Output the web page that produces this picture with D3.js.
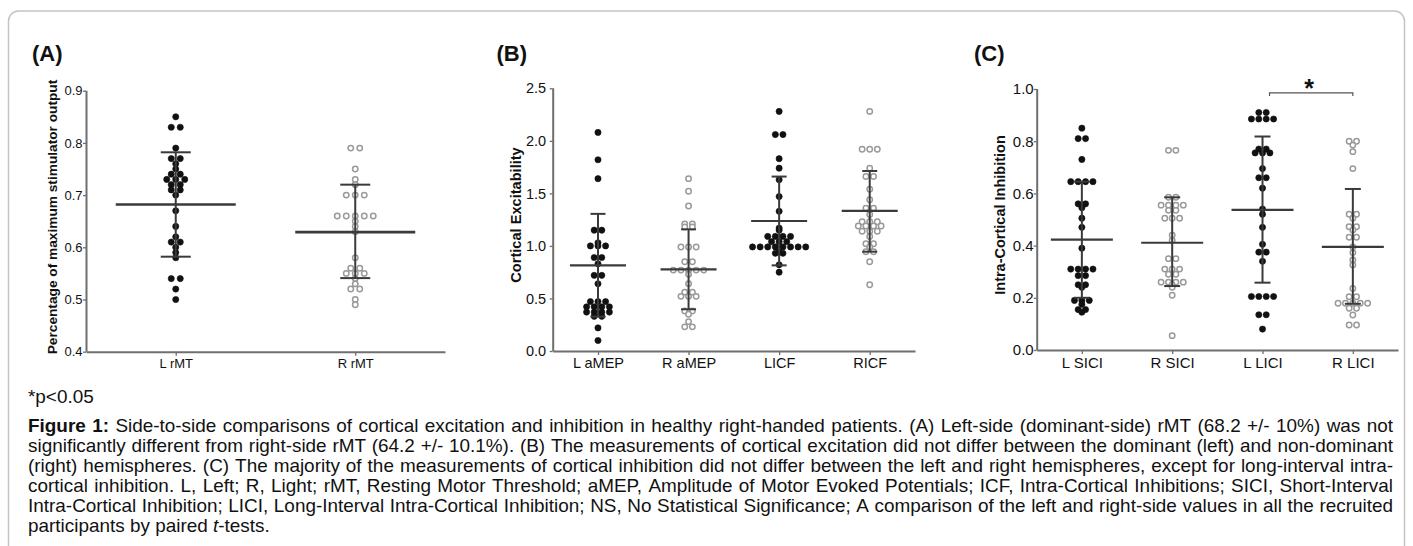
<!DOCTYPE html>
<html>
<head>
<meta charset="utf-8">
<script src="https://cdn.jsdelivr.net/npm/d3@7"></script>
<style>
  body { margin: 0; background: #fff; }
  svg { display: block; }
  text { font-family: "Liberation Sans", Arial, sans-serif; fill: #111; }
</style>
</head>
<body>
<svg id="fig" width="1413" height="546"></svg>
<script>
// ---- data ----
const rmtGroups = ["L rMT", "R rMT"];
const rmtTicks = [0.4, 0.5, 0.6, 0.7, 0.8, 0.9];
const rmtLeft = [0.85, 0.83, 0.83, 0.79, 0.77, 0.77, 0.76, 0.75, 0.74, 0.74, 0.73, 0.73, 0.73, 0.72, 0.72,
  0.71, 0.71, 0.70, 0.67, 0.64, 0.62, 0.61, 0.61, 0.60, 0.59, 0.58, 0.54, 0.54, 0.52, 0.50];
const rmtRight = [0.79, 0.79, 0.75, 0.73, 0.72, 0.70, 0.70, 0.70, 0.66, 0.66, 0.66, 0.66, 0.66, 0.65, 0.64,
  0.63, 0.58, 0.56, 0.56, 0.55, 0.55, 0.55, 0.54, 0.53, 0.52, 0.52, 0.50, 0.49];
const rmtMean = [0.682, 0.629];
const rmtSdHigh = [0.782, 0.72];
const rmtSdLow = [0.582, 0.541];

const excGroups = ["L aMEP", "R aMEP", "LICF", "RICF"];
const excTicks = [0.0, 0.5, 1.0, 1.5, 2.0, 2.5];
const aMepLeft = [2.08, 1.82, 1.64, 1.15, 1.15, 1.03, 1.0, 1.0, 1.0, 0.89, 0.89, 0.83, 0.72, 0.72, 0.64,
  0.47, 0.47, 0.47, 0.42, 0.42, 0.42, 0.42, 0.37, 0.37, 0.37, 0.37, 0.33, 0.33, 0.22, 0.10];
const aMepRight = [1.64, 1.52, 1.38, 1.21, 1.21, 1.18, 1.18, 0.99, 0.99, 0.99, 0.85, 0.85, 0.77, 0.77, 0.77,
  0.77, 0.77, 0.73, 0.64, 0.56, 0.56, 0.52, 0.52, 0.52, 0.38, 0.38, 0.35, 0.28, 0.23, 0.23];
const icfLeft = [2.28, 2.06, 2.06, 1.83, 1.74, 1.63, 1.47, 1.33, 1.17, 1.15, 1.09, 1.09, 1.09, 1.09, 1.04,
  1.04, 1.04, 0.99, 0.99, 0.99, 0.99, 0.99, 0.99, 0.99, 0.99, 0.94, 0.93, 0.93, 0.82, 0.75];
const icfRight = [2.28, 1.92, 1.92, 1.92, 1.74, 1.66, 1.66, 1.54, 1.44, 1.36, 1.36, 1.30, 1.23, 1.23, 1.23,
  1.19, 1.19, 1.19, 1.19, 1.14, 1.14, 1.14, 1.09, 1.02, 1.02, 0.99, 0.945, 0.945, 0.85, 0.63];
const excMean = [0.815, 0.777, 1.237, 1.333];
const excSdHigh = [1.305, 1.158, 1.66, 1.713];
const excSdLow = [0.327, 0.397, 0.815, 0.945];

const inhGroups = ["L SICI", "R SICI", "L LICI", "R LICI"];
const inhTicks = [0.0, 0.2, 0.4, 0.6, 0.8, 1.0];
const siciLeft = [0.85, 0.81, 0.81, 0.73, 0.645, 0.645, 0.645, 0.645, 0.56, 0.56, 0.545, 0.505, 0.47, 0.39,
  0.31, 0.31, 0.31, 0.31, 0.285, 0.285, 0.25, 0.25, 0.24, 0.19, 0.19, 0.19, 0.175, 0.155, 0.155, 0.145];
const siciRight = [0.765, 0.765, 0.585, 0.585, 0.555, 0.555, 0.555, 0.555, 0.535, 0.535, 0.505, 0.505, 0.505,
  0.44, 0.42, 0.35, 0.35, 0.31, 0.31, 0.31, 0.29, 0.29, 0.26, 0.26, 0.26, 0.26, 0.25, 0.24, 0.21, 0.055];
const liciLeft = [0.91, 0.91, 0.885, 0.885, 0.885, 0.885, 0.77, 0.77, 0.755, 0.755, 0.755, 0.695, 0.66, 0.66,
  0.62, 0.54, 0.52, 0.47, 0.405, 0.375, 0.375, 0.34, 0.205, 0.205, 0.205, 0.205, 0.135, 0.135, 0.08];
const liciRight = [0.80, 0.80, 0.785, 0.76, 0.695, 0.52, 0.52, 0.505, 0.472, 0.472, 0.46, 0.432, 0.432, 0.395,
  0.373, 0.345, 0.326, 0.236, 0.204, 0.204, 0.179, 0.179, 0.179, 0.179, 0.179, 0.16, 0.16, 0.134, 0.096, 0.096];
const inhMean = [0.423, 0.411, 0.537, 0.395];
const inhSdHigh = [0.645, 0.585, 0.818, 0.617];
const inhSdLow = [0.20, 0.245, 0.258, 0.177];

const footnote = "*p<0.05";
const captionLines = [
  "<b>Figure</b> <b>1:</b> Side-to-side comparisons of cortical excitation and inhibition in healthy right-handed patients. (A) Left-side (dominant-side) rMT (68.2 +/- 10%) was not",
  "significantly different from right-side rMT (64.2 +/- 10.1%). (B) The measurements of cortical excitation did not differ between the dominant (left) and non-dominant",
  "(right) hemispheres. (C) The majority of the measurements of cortical inhibition did not differ between the left and right hemispheres, except for long-interval intra-",
  "cortical inhibition. L, Left; R, Light; rMT, Resting Motor Threshold; aMEP, Amplitude of Motor Evoked Potentials; ICF, Intra-Cortical Inhibitions; SICI, Short-Interval",
  "Intra-Cortical Inhibition; LICI, Long-Interval Intra-Cortical Inhibition; NS, No Statistical Significance; A comparison of the left and right-side values in all the recruited",
  "participants by paired <i>t</i>-tests."
];

// ---- layout ----
const panels = [
  {
    label: "(A)", labelX: 32, title: "Percentage of maximum stimulator output", titleX: 52, titleY: 217, titleSize: 13.7,
    groups: rmtGroups, values: [rmtLeft, rmtRight], mean: rmtMean, hi: rmtSdHigh, lo: rmtSdLow,
    domain: [0.4, 0.9], ticks: rmtTicks, x0: 86, x1: 445, yTop: 90.7, yBot: 351.7,
    font: 13, tickPad: 0.5, meanHalf: 60, capHalf: 15, meanWidth: 2.6, spacing: 9
  },
  {
    label: "(B)", labelX: 496.5, title: "Cortical Excitability", titleX: 516, titleY: 215, titleSize: 14.6,
    groups: excGroups, values: [aMepLeft, aMepRight, icfLeft, icfRight], mean: excMean, hi: excSdHigh, lo: excSdLow,
    domain: [0, 2.5], ticks: excTicks, x0: 552.7, x1: 915, yTop: 88.3, yBot: 351,
    font: 14.5, tickPad: 3.5, meanHalf: 28, capHalf: 7.5, meanWidth: 2.2, spacing: 7.6
  },
  {
    label: "(C)", labelX: 974, title: "Intra-Cortical Inhibition", titleX: 1000, titleY: 215, titleSize: 14.5,
    groups: inhGroups, values: [siciLeft, siciRight, liciLeft, liciRight], mean: inhMean, hi: inhSdHigh, lo: inhSdLow,
    domain: [0, 1.0], ticks: inhTicks, x0: 1036.7, x1: 1398, yTop: 89, yBot: 350,
    font: 15, tickPad: 0, meanHalf: 31, capHalf: 8, meanWidth: 2.2, spacing: 7.4,
    sig: {from: "L LICI", to: "R LICI", at: 0.985, text: "*"}
  }
];

const axisColor = "#6f6f6f";
const lineColor = "#3a3a3a";

const svg = d3.select("#fig");

svg.append("rect")
  .attr("x", 8.5).attr("y", 11)
  .attr("width", 1396).attr("height", 620)
  .attr("rx", 10)
  .attr("fill", "none")
  .attr("stroke", "#c4c4c4")
  .attr("stroke-width", 1.5);

// spread equal values side by side, centred on the group
function swarm(values, spacing) {
  const counts = d3.rollup(values, v => v.length, d => d);
  const seen = new Map();
  return values.map(v => {
    const n = counts.get(v), k = seen.get(v) || 0;
    seen.set(v, k + 1);
    return {v, dx: (k - (n - 1) / 2) * spacing};
  });
}

panels.forEach(p => {
  const g = svg.append("g");
  const x = d3.scalePoint().domain(p.groups).range([p.x0, p.x1]).padding(0.5);
  const y = d3.scaleLinear().domain(p.domain).range([p.yBot, p.yTop]);

  g.append("text")
    .attr("x", p.labelX).attr("y", 61)
    .attr("font-size", 22).attr("font-weight", "bold")
    .text(p.label);

  g.append("text")
    .attr("transform", `translate(${p.titleX},${p.titleY}) rotate(-90)`)
    .attr("text-anchor", "middle")
    .attr("dominant-baseline", "central")
    .attr("font-size", p.titleSize).attr("font-weight", "bold")
    .text(p.title);

  // axes
  const yAxis = g.append("g")
    .attr("transform", `translate(${p.x0},0)`)
    .call(d3.axisLeft(y).tickValues(p.ticks).tickFormat(d3.format(".1f")).tickSize(3).tickSizeOuter(0).tickPadding(p.tickPad));
  const xAxis = g.append("g")
    .attr("transform", `translate(0,${p.yBot})`)
    .call(d3.axisBottom(x).tickSize(4).tickSizeOuter(0).tickPadding(3));
  [yAxis, xAxis].forEach(a => {
    a.select(".domain").attr("stroke", axisColor).attr("stroke-width", 2);
    a.selectAll(".tick line").attr("stroke", axisColor).attr("stroke-width", 1.3);
    a.selectAll(".tick text").attr("fill", "#111").attr("font-size", p.font)
      .attr("font-family", "'Liberation Sans', Arial, sans-serif");
  });
  yAxis.select(".domain").attr("d", `M0.5,${p.yBot}V${p.yTop}`);

  // dots
  p.groups.forEach((name, i) => {
    const filled = name.startsWith("L");
    const pts = swarm(p.values[i], p.spacing);
    g.append("g").selectAll("circle")
      .data(pts)
      .join("circle")
      .attr("cx", d => x(name) + d.dx)
      .attr("cy", d => y(d.v))
      .attr("r", filled ? 3.1 : 2.7)
      .attr("fill", filled ? "#111" : "#fff")
      .attr("stroke", filled ? "#111" : "#9a9a9a")
      .attr("stroke-width", filled ? 0.6 : 1.5);
  });

  // mean and SD bars
  const bars = g.append("g").attr("stroke", lineColor).attr("fill", "none");
  p.groups.forEach((name, i) => {
    const cx = x(name);
    bars.append("line")
      .attr("x1", cx).attr("x2", cx)
      .attr("y1", y(p.lo[i])).attr("y2", y(p.hi[i]))
      .attr("stroke-width", 2);
    [p.lo[i], p.hi[i]].forEach(v => {
      bars.append("line")
        .attr("x1", cx - p.capHalf).attr("x2", cx + p.capHalf)
        .attr("y1", y(v)).attr("y2", y(v))
        .attr("stroke-width", 2);
    });
    bars.append("line")
      .attr("x1", cx - p.meanHalf).attr("x2", cx + p.meanHalf)
      .attr("y1", y(p.mean[i])).attr("y2", y(p.mean[i]))
      .attr("stroke-width", p.meanWidth);
  });

  if (p.sig) {
    const xa = x(p.sig.from) + 7, xb = x(p.sig.to), yb = y(p.sig.at);
    g.append("path")
      .attr("d", `M${xa},${yb + 3}V${yb}H${xb}V${yb + 3}`)
      .attr("fill", "none").attr("stroke", "#555").attr("stroke-width", 1.2);
    g.append("text")
      .attr("x", (xa + xb) / 2 - 2).attr("y", yb + 4)
      .attr("text-anchor", "middle")
      .attr("font-size", 25).attr("font-weight", "bold")
      .text(p.sig.text);
  }
});

// ---- footnote and caption ----
const capLeft = 28, capRight = 1393, capTop = 431.7, capStep = 20;

function parseWord(w) {
  const pieces = [];
  const re = /<(b|i)>(.*?)<\/\1>|([^<]+)/g;
  let m;
  while ((m = re.exec(w))) {
    if (m[1]) pieces.push({t: m[2], s: m[1]});
    else pieces.push({t: m[3], s: null});
  }
  return pieces;
}

const capG = svg.append("g");

function measure(size) {
  capG.attr("font-size", size);
  const probe = capG.append("text");
  const width = s => { probe.text(s); return probe.node().getComputedTextLength(); };
  const sp = width("a a") - width("aa");
  probe.remove();
  return sp;
}

function layoutLines(size) {
  capG.selectAll("*").remove();
  const spaceW = measure(size);
  return captionLines.map((line, li) => {
    const yy = capTop + li * capStep;
    const words = line.split(" ").map(w => {
      const t = capG.append("text").attr("y", yy);
      parseWord(w).forEach(pc => {
        const ts = t.append("tspan").text(pc.t);
        if (pc.s === "b") ts.attr("font-weight", "bold");
        if (pc.s === "i") ts.attr("font-style", "italic");
      });
      return {node: t, w: t.node().getComputedTextLength()};
    });
    return {words, spaceW, last: li === captionLines.length - 1};
  });
}

// pick the size at which the widest justified line has about normal word spacing
let lines = layoutLines(17);
const widest = d3.max(lines.filter(l => !l.last),
  l => d3.sum(l.words, d => d.w) + l.spaceW * (l.words.length - 1));
const capSize = 17 * (capRight - capLeft) / widest * 0.995;
lines = layoutLines(capSize);

lines.forEach(l => {
  const total = d3.sum(l.words, d => d.w);
  const gap = l.last ? l.spaceW : Math.max(l.spaceW * 0.7, (capRight - capLeft - total) / (l.words.length - 1));
  let cx = capLeft;
  l.words.forEach(d => {
    d.node.attr("x", cx);
    cx += d.w + gap;
  });
});

svg.append("text")
  .attr("x", capLeft).attr("y", 403)
  .attr("font-size", capSize)
  .text(footnote);
</script>
</body>
</html>
